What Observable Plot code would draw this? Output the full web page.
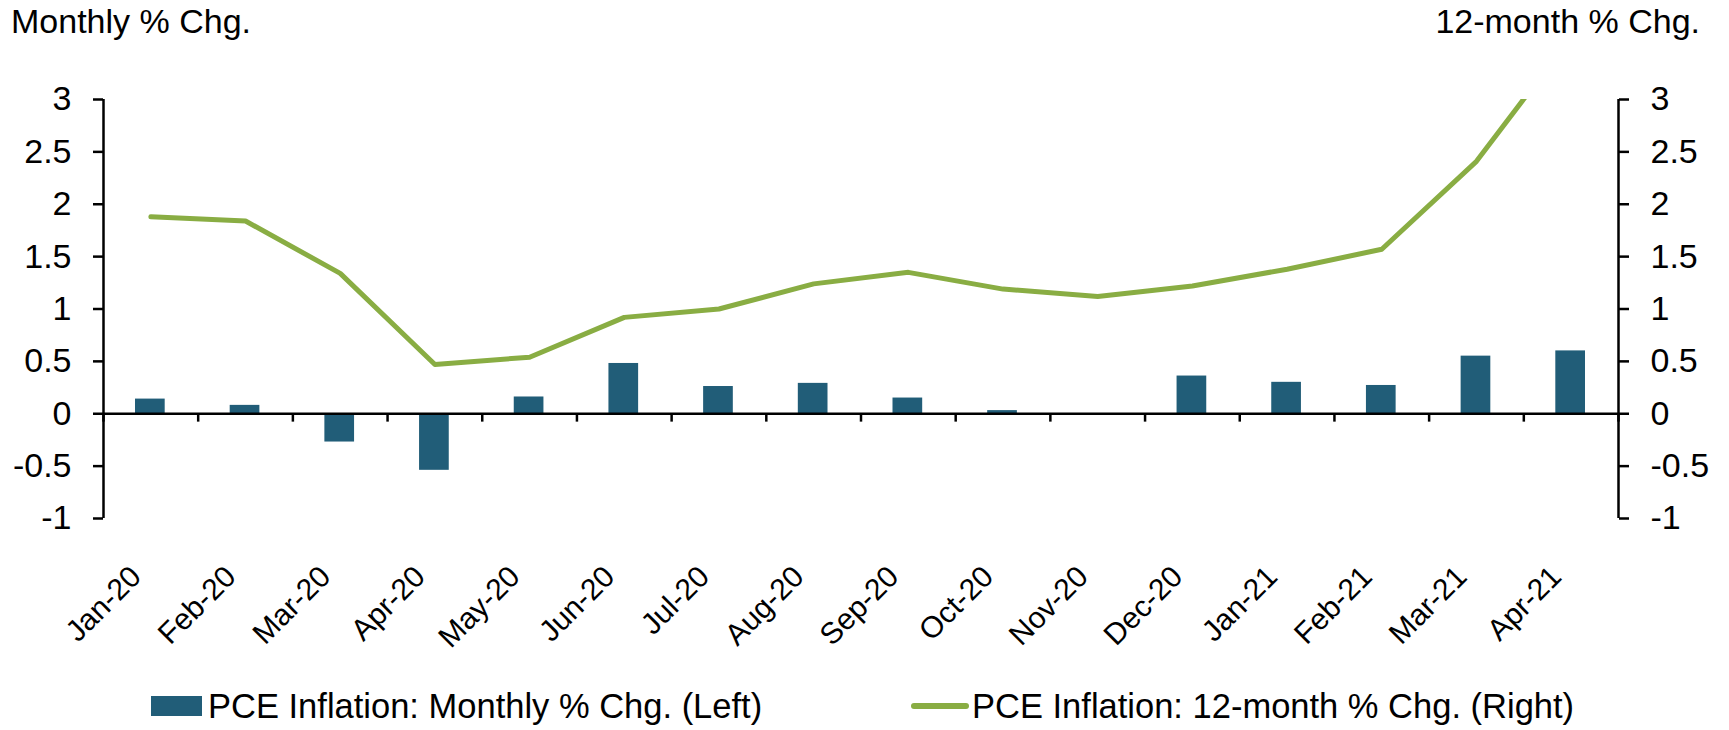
<!DOCTYPE html>
<html>
<head>
<meta charset="utf-8">
<script src="https://cdn.jsdelivr.net/npm/d3@7"></script>
<script src="https://cdn.jsdelivr.net/npm/@observablehq/plot@0.6"></script>
<style>
  body { margin: 0; background: #fff; font-family: "Liberation Sans", Arial, sans-serif; color: #000; }
  #wrap { position: relative; width: 1729px; height: 730px; overflow: hidden; background: #fff; }
  #chart { position: absolute; left: 0; top: 0; }
  .title { position: absolute; top: 4px; font-size: 34px; line-height: 34px; white-space: nowrap; }
  .lt { position: absolute; top: 687px; font-size: 34.5px; line-height: 38px; white-space: nowrap; }
  .swbar { position: absolute; left: 151px; top: 696px; width: 51px; height: 20px; background: #215d78; }
  .swline { position: absolute; left: 911px; top: 703px; width: 58px; height: 6px; border-radius: 3px; background: #89ad43; }
</style>
</head>
<body>
<div id="wrap">
  <div id="chart"></div>
  <div class="title" style="left:11px">Monthly % Chg.</div>
  <div class="title" style="right:29px">12-month % Chg.</div>
  <div class="swbar"></div>
  <div class="lt" style="left:208px">PCE Inflation: Monthly % Chg. (Left)</div>
  <div class="swline"></div>
  <div class="lt" style="left:972px">PCE Inflation: 12-month % Chg. (Right)</div>
</div>
<script>
const months = ["Jan-20","Feb-20","Mar-20","Apr-20","May-20","Jun-20","Jul-20","Aug-20","Sep-20","Oct-20","Nov-20","Dec-20","Jan-21","Feb-21","Mar-21","Apr-21"];
const monthlyChg = [0.14, 0.08, -0.27, -0.54, 0.16, 0.48, 0.26, 0.29, 0.15, 0.03, 0.00, 0.36, 0.30, 0.27, 0.55, 0.60];
const yearlyChg = [1.88, 1.84, 1.34, 0.47, 0.54, 0.92, 1.00, 1.24, 1.35, 1.19, 1.12, 1.22, 1.38, 1.57, 2.41, 3.60];
const yTicks = [-1, -0.5, 0, 0.5, 1, 1.5, 2, 2.5, 3];

const data = months.map((m, i) => ({i, month: m, monthly: monthlyChg[i], yoy: yearlyChg[i]}));
const boundaries = d3.range(0, months.length + 1);

const chart = Plot.plot({
  width: 1729,
  height: 660,
  marginLeft: 103,
  marginRight: 111,
  marginTop: 99,
  marginBottom: 142,
  style: {fontFamily: "'Liberation Sans', Arial, sans-serif", fontSize: "34px", color: "#000", background: "white"},
  x: {domain: [0, months.length], axis: null},
  y: {domain: [-1, 3], axis: null},
  marks: [
    Plot.rectY(data, {x1: "i", x2: d => d.i + 1, y: "monthly", fill: "#215d78", insetLeft: 32, insetRight: 33}),
    Plot.ruleY([0], {stroke: "#000", strokeWidth: 2.5}),
    Plot.ruleX(boundaries, {x: d => d, y1: 0, y2: -0.08, stroke: "#000", strokeWidth: 2.5}),
    Plot.ruleX([0, months.length], {x: d => d, y1: -1, y2: 3, stroke: "#000", strokeWidth: 2.5}),
    Plot.axisY(yTicks, {anchor: "left", tickFormat: d => String(d), tickSize: 10, tickPadding: 22, fontSize: 34, strokeWidth: 2.5}),
    Plot.axisY(yTicks, {anchor: "right", tickFormat: d => String(d), tickSize: 10, tickPadding: 22, fontSize: 34, strokeWidth: 2.5}),
    Plot.line(data, {x: d => d.i + 0.5, y: "yoy", stroke: "#89ad43", strokeWidth: 5, clip: true}),
    Plot.text(data, {x: d => d.i + 0.5, text: "month", frameAnchor: "bottom", rotate: -45, textAnchor: "end", dx: -8, dy: 60, fontSize: 30})
  ]
});
document.getElementById("chart").appendChild(chart);
</script>
</body>
</html>
